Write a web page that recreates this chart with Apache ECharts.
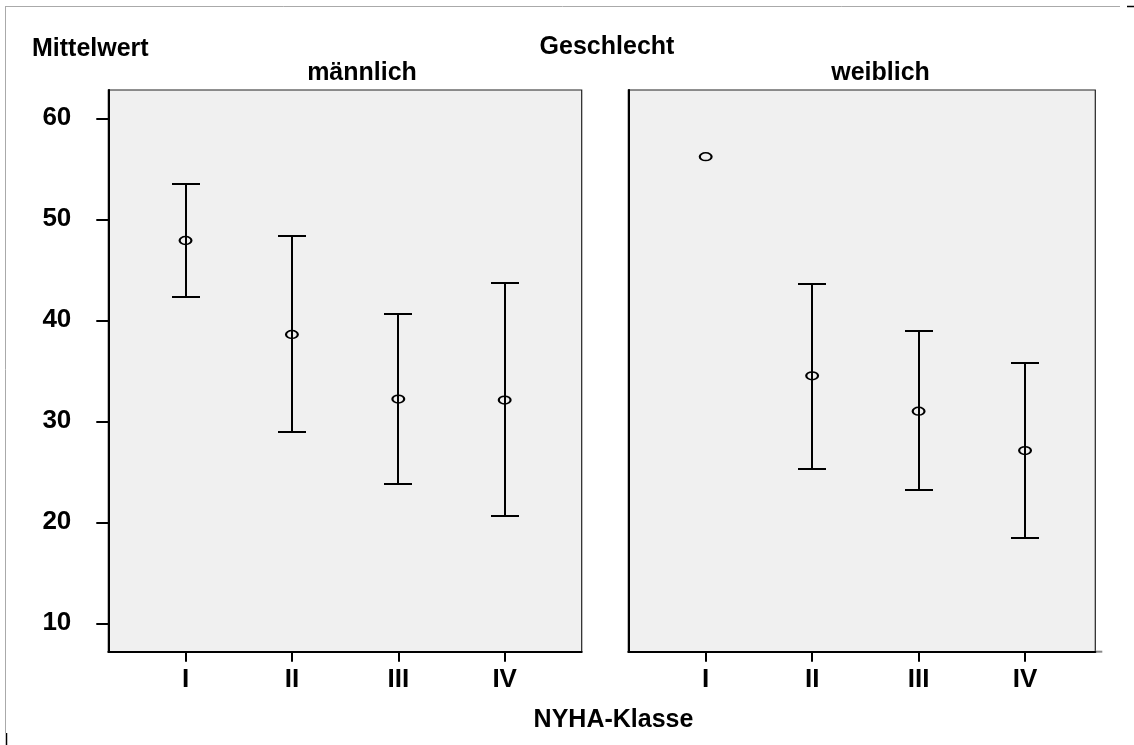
<!DOCTYPE html>
<html><head><meta charset="utf-8">
<script src="https://cdn.jsdelivr.net/npm/echarts@6/dist/echarts.min.js"></script>
<style>html,body{margin:0;padding:0;background:#fff}#c{width:1134px;height:745px}</style>
</head><body><div id="c"></div>
<script>
// ---- data ----
const categories = ['I', 'II', 'III', 'IV'];
const yTicks = [10, 20, 30, 40, 50, 60];
const panelTitles = ['männlich', 'weiblich'];
const maleMean = [47.9, 38.6, 32.2, 32.1];
const maleLow  = [42.3, 28.9, 23.8, 20.6];
const maleHigh = [53.5, 48.3, 40.6, 43.7];
const femaleMean = [56.2, 34.5, 31.0, 27.1];
const femaleLow  = [null, 25.3, 23.2, 18.4];
const femaleHigh = [null, 43.6, 38.9, 35.8];

const FONT = "'Liberation Sans', Arial, Helvetica, sans-serif";
const xPos = categories.map((c, i) => i + 1);
const ellipse = 'path://M10,0 A10,10 0 1,1 10,20 A10,10 0 1,1 10,0 Z';

function meanData(m) { return m.map((v, i) => [xPos[i], v]); }
function barData(lo, hi) {
  const out = [];
  lo.forEach((v, i) => { if (v != null && hi[i] != null) out.push([xPos[i], v, hi[i]]); });
  return out;
}
function renderBar(params, api) {
  const x = api.value(0);
  const p1 = api.coord([x, api.value(1)]);
  const p2 = api.coord([x, api.value(2)]);
  const cx = Math.round(p1[0]);
  const y1 = Math.round(p1[1]), y2 = Math.round(p2[1]);
  const hw = 14;
  const st = { stroke: '#000', lineWidth: 2 };
  return { type: 'group', children: [
    { type: 'line', shape: { x1: cx, y1: y1, x2: cx, y2: y2 }, style: st },
    { type: 'line', shape: { x1: cx - hw, y1: y1, x2: cx + hw, y2: y1 }, style: st },
    { type: 'line', shape: { x1: cx - hw, y1: y2, x2: cx + hw, y2: y2 }, style: st }
  ]};
}

const labelStyle = { color: '#000', fontFamily: FONT, fontWeight: 'bold', fontSize: 26 };
function xAxis(idx, min, max) {
  return {
    type: 'value', gridIndex: idx, min: min, max: max,
    axisLine: { show: true, lineStyle: { color: '#000', width: 2 } },
    axisTick: { show: true, customValues: xPos, length: 10, lineStyle: { color: '#000', width: 2 } },
    axisLabel: Object.assign({ customValues: xPos, margin: 15, formatter: v => categories[Math.round(v) - 1] || '' }, labelStyle),
    splitLine: { show: false }
  };
}
function yAxis(idx, withLabels) {
  return {
    type: 'value', gridIndex: idx, min: 7.19, max: 62.8,
    axisLine: { show: true, lineStyle: { color: '#000', width: 2 } },
    axisTick: { show: withLabels, customValues: yTicks, length: 12, lineStyle: { color: '#000', width: 2 } },
    axisLabel: Object.assign({ show: withLabels, customValues: yTicks, margin: 37 }, labelStyle),
    splitLine: { show: false }
  };
}
function txt(text, x, y, align) {
  return { type: 'text', x: x, y: y, silent: true,
    style: { text: text, fill: '#000', font: 'bold 25px ' + FONT,
      align: align || 'center', textAlign: align || 'center', verticalAlign: 'middle', textVerticalAlign: 'middle' } };
}
const gridStyle = { show: true, backgroundColor: '#f0f0f0', borderColor: '#222', borderWidth: 1.2 };
const markerStyle = { color: 'rgba(0,0,0,0)', borderColor: '#000', borderWidth: 1.8, opacity: 1 };

const chart = echarts.init(document.getElementById('c'), null, { renderer: 'canvas' });
chart.setOption({
  animation: false,
  backgroundColor: '#fff',
  grid: [
    Object.assign({ left: 108.3, top: 90, width: 473.4, height: 561.7 }, gridStyle),
    Object.assign({ left: 628.3, top: 90, width: 467, height: 561.7 }, gridStyle)
  ],
  xAxis: [xAxis(0, 0.274, 4.724), xAxis(1, 0.273, 4.66)],
  yAxis: [yAxis(0, true), yAxis(1, false)],
  series: [
    { type: 'custom', xAxisIndex: 0, yAxisIndex: 0, renderItem: renderBar, data: barData(maleLow, maleHigh), silent: true },
    { type: 'custom', xAxisIndex: 1, yAxisIndex: 1, renderItem: renderBar, data: barData(femaleLow, femaleHigh), silent: true },
    { type: 'scatter', xAxisIndex: 0, yAxisIndex: 0, data: meanData(maleMean), symbol: ellipse, symbolSize: [11.8, 7.8],
      itemStyle: markerStyle, z: 5, silent: true },
    { type: 'scatter', xAxisIndex: 1, yAxisIndex: 1, data: meanData(femaleMean), symbol: ellipse, symbolSize: [11.8, 7.8],
      itemStyle: markerStyle, z: 5, silent: true }
  ],
  graphic: [
    { type: 'line', shape: { x1: 5, y1: 6.5, x2: 1120, y2: 6.5 }, style: { stroke: '#aaa', lineWidth: 1 }, silent: true },
    { type: 'line', shape: { x1: 5.5, y1: 6, x2: 5.5, y2: 733 }, style: { stroke: '#aaa', lineWidth: 1 }, silent: true },
    { type: 'line', shape: { x1: 6.5, y1: 733, x2: 6.5, y2: 745 }, style: { stroke: '#000', lineWidth: 1.5 }, silent: true },
    { type: 'line', shape: { x1: 1127, y1: 6.5, x2: 1134, y2: 6.5 }, style: { stroke: '#000', lineWidth: 1.5 }, silent: true },
    { type: 'line', shape: { x1: 1095, y1: 651.7, x2: 1102.3, y2: 651.7 }, style: { stroke: '#888', lineWidth: 2 }, silent: true },
    txt('Mittelwert', 32, 49.5, 'left'),
    txt('Geschlecht', 607, 47.5),
    txt(panelTitles[0], 362, 73.5),
    txt(panelTitles[1], 880.5, 73.5),
    txt('NYHA-Klasse', 613.5, 720)
  ]
});
</script>
</body></html>
